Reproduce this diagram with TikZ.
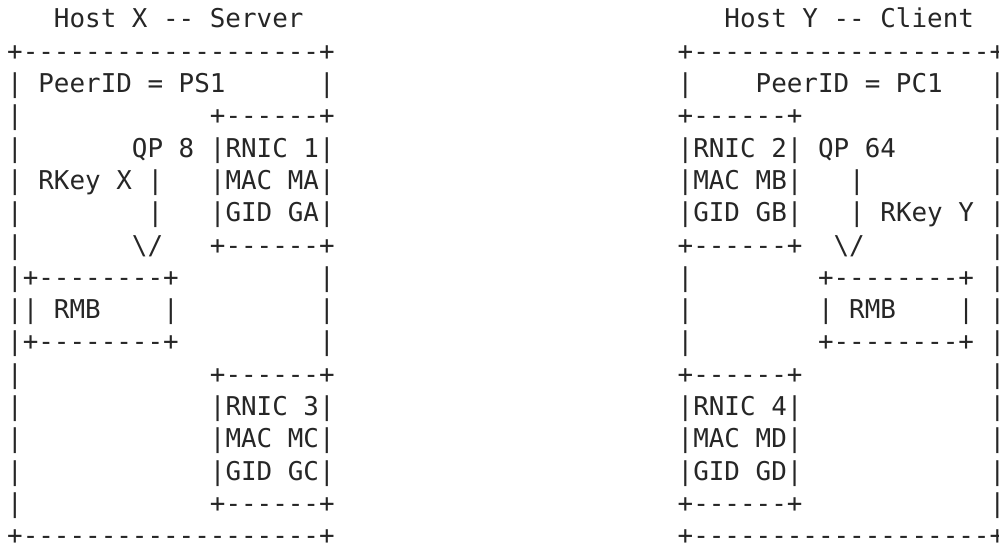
\documentclass[tikz,border=0pt]{standalone}
\usepackage{fontspec}
\newfontfamily\asciifont{DejaVu Sans Mono}
\usetikzlibrary{positioning}
\definecolor{inkgray}{HTML}{262626}
\tikzstyle{ascii} = [anchor=base west, inner sep=0pt, outer sep=0pt,
    text depth=0pt, text=inkgray, font=\asciifont\fontsize{25.9pt}{32.3pt}\selectfont]

\begin{document}
\begin{tikzpicture}[x=15.593pt, y=-32.3pt]
  \useasboundingbox ([xshift=-7.2pt,yshift=28pt]0,0) rectangle ++(999pt,-548pt);
  % hosts and outer boxes
  \node [ascii] (hostx) at (3,0) {Host X -- Server};
  \node [ascii] (hosty) at (46,0) {Host Y -- Client};
  \node [ascii] (topx) at (0,1) {+-------------------+};
  \node [ascii] (topy) at (43,1) {+-------------------+};
  \node [ascii] (botx) at (0,16) {+-------------------+};
  \node [ascii] (boty) at (43,16) {+-------------------+};
  \foreach \r in {2,...,15} {
    \node [ascii] (xl\r) at (0,\r) {|};
    \node [ascii] (yr\r) at (63,\r) {|};
  }
  \foreach \r in {2,8,9,10} {
    \node [ascii] (xr\r) at (20,\r) {|};
    \node [ascii] (yl\r) at (43,\r) {|};
  }
  \node [ascii] (peerx) at (2,2) {PeerID = PS1};
  \node [ascii] (peery) at (48,2) {PeerID = PC1};
  % RNICs
  \foreach \c/\r/\n/\m in {13/3/1/A, 43/3/2/B, 13/11/3/C, 43/11/4/D} {
    \node [ascii] (rnict\n) at (\c,\r) {+------+};
    \node [ascii] (rnic\n) at (\c,\r+1) {|RNIC \n|};
    \node [ascii] (mac\n) at (\c,\r+2) {|MAC M\m|};
    \node [ascii] (gid\n) at (\c,\r+3) {|GID G\m|};
    \node [ascii] (rnicb\n) at (\c,\r+4) {+------+};
  }
  % QP and RKey
  \node [ascii] (qpx) at (8,4) {QP 8};
  \node [ascii] (rkeyx) at (2,5) {RKey X};
  \node [ascii] (lnxa) at (9,5) {|};
  \node [ascii] (lnxb) at (9,6) {|};
  \node [ascii] (arrx) at (8,7) {\textbackslash/};
  \node [ascii] (qpy) at (52,4) {QP 64};
  \node [ascii] (lnya) at (54,5) {|};
  \node [ascii] (lnyb) at (54,6) {|};
  \node [ascii] (rkeyy) at (56,6) {RKey Y};
  \node [ascii] (arry) at (53,7) {\textbackslash/};
  % RMBs
  \node [ascii] (rmbxt) at (1,8) {+--------+};
  \node [ascii] (rmbxl) at (1,9) {|};
  \node [ascii] (rmbx) at (3,9) {RMB};
  \node [ascii] (rmbxr) at (10,9) {|};
  \node [ascii] (rmbxb) at (1,10) {+--------+};
  \node [ascii] (rmbyt) at (52,8) {+--------+};
  \node [ascii] (rmbyl) at (52,9) {|};
  \node [ascii] (rmby) at (54,9) {RMB};
  \node [ascii] (rmbyr) at (61,9) {|};
  \node [ascii] (rmbyb) at (52,10) {+--------+};
\end{tikzpicture}
\end{document}
